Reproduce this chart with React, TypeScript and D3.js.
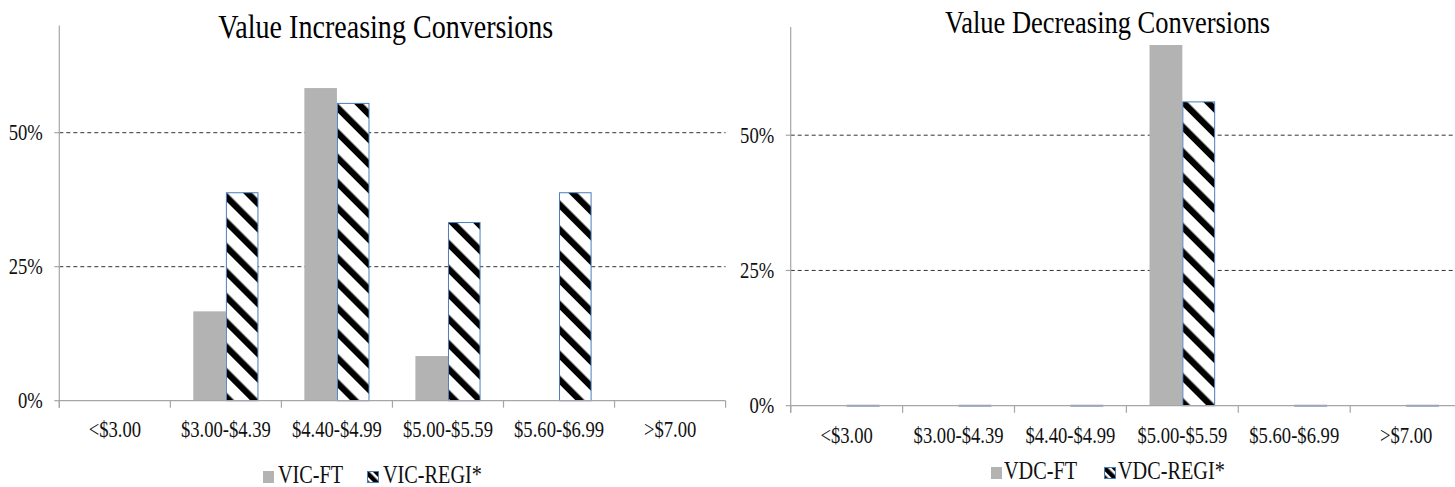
import React from "react";
import * as d3 from "d3";

// Price bands shared by both charts
const categories = ["<$3.00", "$3.00-$4.39", "$4.40-$4.99", "$5.00-$5.59", "$5.60-$6.99", ">$7.00"];

// Value increasing conversions (share of conversions per price band)
const vicFT: (number | null)[] = [null, 0.1667, 0.5833, 0.0833, 0, null];
const vicREGI: (number | null)[] = [null, 0.3889, 0.5556, 0.3333, 0.3889, null];

// Value decreasing conversions
const vdcFT: (number | null)[] = [0, 0, 0, 0.6667, 0, 0];
const vdcREGI: (number | null)[] = [0, 0, 0, 0.5625, 0, 0];

const yTicks = [0, 0.25, 0.5];
const yMax = 0.7;

const FONT = "'Liberation Serif', 'Times New Roman', serif";
const GRAY = "#b3b3b3";
const BLUE = "#4a7ebb";
const AXIS = "#a6a6a6";
const SQUEEZE = 0.81;

interface PanelProps {
  title: string;
  ftName: string;
  regiName: string;
  ft: (number | null)[];
  regi: (number | null)[];
  left: number;
  step: number;
  base: number;
  ppu: number;
  titleX: number;
  titleY: number;
  titleSize: number;
  titleLen: number;
  labelDy: number;
  legend: { sw1: number; tx1: number; sw2: number; tx2: number; y: number };
}

function Squeezed({ x, y, anchor, size, children }: any) {
  return (
    <text
      transform={`translate(${x},${y}) scale(${SQUEEZE},1)`}
      textAnchor={anchor}
      fontFamily={FONT}
      fontSize={size}
      fill="#111"
    >
      {children}
    </text>
  );
}

function Panel(p: PanelProps) {
  const right = p.left + categories.length * p.step;
  const x = d3.scaleBand<string>().domain(categories).range([p.left, right]);
  const sub = d3
    .scaleBand<string>()
    .domain(["ft", "regi"])
    .range([0, x.bandwidth()])
    .paddingInner(0)
    .paddingOuter(0.705);
  const y = d3.scaleLinear().domain([0, yMax]).range([p.base, p.base - yMax * p.ppu]);
  const bw = sub.bandwidth();
  const boundaries = [...categories.map((c) => x(c)!), right];

  return (
    <g>
      <text
        x={p.titleX}
        y={p.titleY}
        textAnchor="middle"
        fontFamily={FONT}
        fontSize={p.titleSize}
        textLength={p.titleLen}
        lengthAdjust="spacingAndGlyphs"
        fill="#000"
      >
        {p.title}
      </text>

      {/* gridlines */}
      {yTicks
        .filter((t) => t > 0)
        .map((t) => (
          <line
            key={"g" + t}
            x1={p.left}
            x2={right}
            y1={y(t)}
            y2={y(t)}
            stroke="#333"
            strokeWidth={1}
            strokeDasharray="4,3"
          />
        ))}

      {/* value axis */}
      <line x1={p.left} x2={p.left} y1={y(yMax)} y2={p.base + 7} stroke={AXIS} strokeWidth={1.2} />
      {yTicks.map((t) => (
        <g key={"y" + t}>
          <line x1={p.left - 5} x2={p.left} y1={y(t)} y2={y(t)} stroke={AXIS} strokeWidth={1.2} />
          <Squeezed x={p.left - 16.5} y={y(t) + 7.5} anchor="end" size={23}>
            {d3.format(".0%")(t)}
          </Squeezed>
        </g>
      ))}

      {/* bars */}
      {categories.map((c, i) => {
        const v1 = p.ft[i];
        const v2 = p.regi[i];
        const bx = x(c)!;
        return (
          <g key={c}>
            {v1 != null && v1 > 0 && (
              <rect x={bx + sub("ft")!} y={y(v1)} width={bw} height={p.base - y(v1)} fill={GRAY} />
            )}
            {v2 != null && v2 > 0 && (
              <rect
                x={bx + sub("regi")! + 0.5}
                y={y(v2) + 0.5}
                width={bw - 1}
                height={p.base - y(v2) - 0.5}
                fill="url(#hatch)"
                stroke={BLUE}
                strokeWidth={1}
              />
            )}
            {v2 === 0 && (
              <line
                x1={bx + sub("regi")!}
                x2={bx + sub("regi")! + bw}
                y1={p.base}
                y2={p.base}
                stroke="#7f9cc4"
                strokeWidth={2}
              />
            )}
          </g>
        );
      })}

      {/* category axis */}
      <line x1={p.left} x2={right} y1={p.base} y2={p.base} stroke={AXIS} strokeWidth={1.2} />
      {boundaries.map((b, i) => (
        <line key={"t" + i} x1={b} x2={b} y1={p.base} y2={p.base + 7} stroke={AXIS} strokeWidth={1.2} />
      ))}
      {categories.map((c) => (
        <Squeezed key={"l" + c} x={x(c)! + x.bandwidth() / 2} y={p.base + p.labelDy} anchor="middle" size={23}>
          {c}
        </Squeezed>
      ))}

      {/* legend */}
      <rect x={p.legend.sw1} y={p.legend.y - 12} width={11} height={12} fill={GRAY} />
      <Squeezed x={p.legend.tx1} y={p.legend.y} anchor="start" size={25}>
        {p.ftName}
      </Squeezed>
      <rect
        x={p.legend.sw2 + 0.5}
        y={p.legend.y - 11.5}
        width={11}
        height={11}
        fill="url(#hatchSmall)"
        stroke={BLUE}
        strokeWidth={1}
      />
      <Squeezed x={p.legend.tx2} y={p.legend.y} anchor="start" size={25}>
        {p.regiName}
      </Squeezed>
    </g>
  );
}

export default function App() {
  return (
    <div style={{ position: "absolute", left: 0, top: 0 }}>
      <svg width={1455} height={487} style={{ display: "block", background: "#fff" }}>
        <defs>
          <pattern
            id="hatch"
            patternUnits="userSpaceOnUse"
            width={17.7}
            height={17.7}
            patternTransform="rotate(-45)"
          >
            <rect width={17.7} height={17.7} fill="#fff" />
            <rect width={6.4} height={17.7} fill="#000" />
          </pattern>
          <pattern
            id="hatchSmall"
            patternUnits="userSpaceOnUse"
            width={7}
            height={7}
            patternTransform="rotate(-45)"
          >
            <rect width={7} height={7} fill="#fff" />
            <rect width={4.5} height={7} fill="#000" />
          </pattern>
        </defs>

        <Panel
          title="Value Increasing Conversions"
          ftName="VIC-FT"
          regiName="VIC-REGI*"
          ft={vicFT}
          regi={vicREGI}
          left={59.3}
          step={111.05}
          base={400.7}
          ppu={536}
          titleX={385.7}
          titleY={37.7}
          titleSize={33}
          titleLen={335}
          labelDy={36}
          legend={{ sw1: 263, tx1: 278, sw2: 367, tx2: 383, y: 483 }}
        />
        <Panel
          title="Value Decreasing Conversions"
          ftName="VDC-FT"
          regiName="VDC-REGI*"
          ft={vdcFT}
          regi={vdcREGI}
          left={790.7}
          step={111.9}
          base={405.7}
          ppu={541}
          titleX={1107.5}
          titleY={33}
          titleSize={31}
          titleLen={325}
          labelDy={37.5}
          legend={{ sw1: 991, tx1: 1004, sw2: 1104, tx2: 1118, y: 479 }}
        />
      </svg>
    </div>
  );
}
